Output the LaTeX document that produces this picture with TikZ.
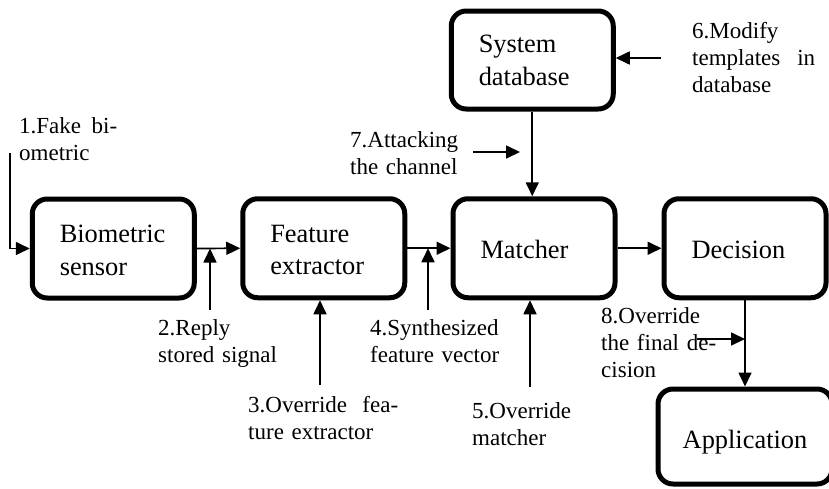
\documentclass[tikz,border=0pt]{standalone}
\usepackage{fontspec}
\setmainfont{Liberation Serif}
\usetikzlibrary{arrows.meta}
\begin{document}
\begin{tikzpicture}[x=1pt,y=-1pt,
  blk/.style={draw, line width=5pt, rounded corners=15pt, minimum width=162pt,
    minimum height=99pt, inner sep=0pt, text width=107pt, align=left,
    text height=21pt, font=\fontsize{26.4}{32.5}\selectfont},
  lab/.style={inner sep=0pt, anchor=base west, align=left, text width=#1,
    font=\fontsize{23}{27.3}\selectfont},
  conn/.style={line width=1.7pt, -{Triangle[length=14pt,width=13pt]}}]
\useasboundingbox (0,0) rectangle (829,488);
% boxes
\node[blk] (BS) at (113.25,248.5) {Biometric\\sensor};
\node[blk] (FE) at (323.75,248.25) {Feature\\extractor};
\node[blk] (M) at (534,248.25) {Matcher};
\node[blk] (D) at (745,248.25) {Decision};
\node[blk, minimum height=98pt, text height=18pt] (DB) at (532.25,60) {System\\database};
\node[blk, minimum width=174pt, minimum height=95pt, text width=130pt, align=center, text height=30pt] (App) at (745,436.5) {Application};
% labels
\node[lab=98pt] (L1) at (19,133) {1.Fake\hfill bi-\\ometric};
\node[lab=135pt] (L2) at (158,335) {2.Reply\\stored signal};
\node[lab=150pt] (L3) at (248,412) {3.Override\hfill fea-\\ture extractor};
\node[lab=160pt] (L4) at (370,335) {4.Synthesized\\feature vector};
\node[lab=120pt] (L5) at (472,418) {5.Override\\matcher};
\node[lab=123pt] (L6) at (692,38) {6.Modify\\templates\hfill in\\database};
\node[lab=125pt] (L7) at (350,147) {7.Attacking\\the channel};
\node[lab=135pt] (L8) at (601,323) {8.Override\\the final de-\\cision};
% connectors
\coordinate (s1) at (10,153);
\draw[conn] (s1) |- (BS.west);
\draw[conn] (BS.east) -- (FE.west);
\coordinate (s2) at (210,310);
\draw[conn] (s2) -- (s2 |- BS.east);
\coordinate (s3) at (320,385);
\draw[conn] (s3) -- (s3 |- FE.south);
\draw[conn] (FE.east) -- (M.west);
\coordinate (s4) at (428,310);
\draw[conn] (s4) -- (s4 |- FE.east);
\coordinate (s5) at (530,387);
\draw[conn] (s5) -- (s5 |- M.south);
\draw[conn] (M.east) -- (D.west);
\draw[conn] (DB.south) -- (DB.south |- M.north);
\coordinate (s6) at (661,58);
\draw[conn] (s6) -- (s6 -| DB.east);
\coordinate (s7a) at (473,152);
\coordinate (s7b) at (520,152);
\draw[conn] (s7a) -- (s7b);
\draw[conn] (D.south) -- (D.south |- App.north);
\coordinate (s8) at (697,339);
\draw[conn] (s8) -- (s8 -| D.south);
\end{tikzpicture}
\end{document}
